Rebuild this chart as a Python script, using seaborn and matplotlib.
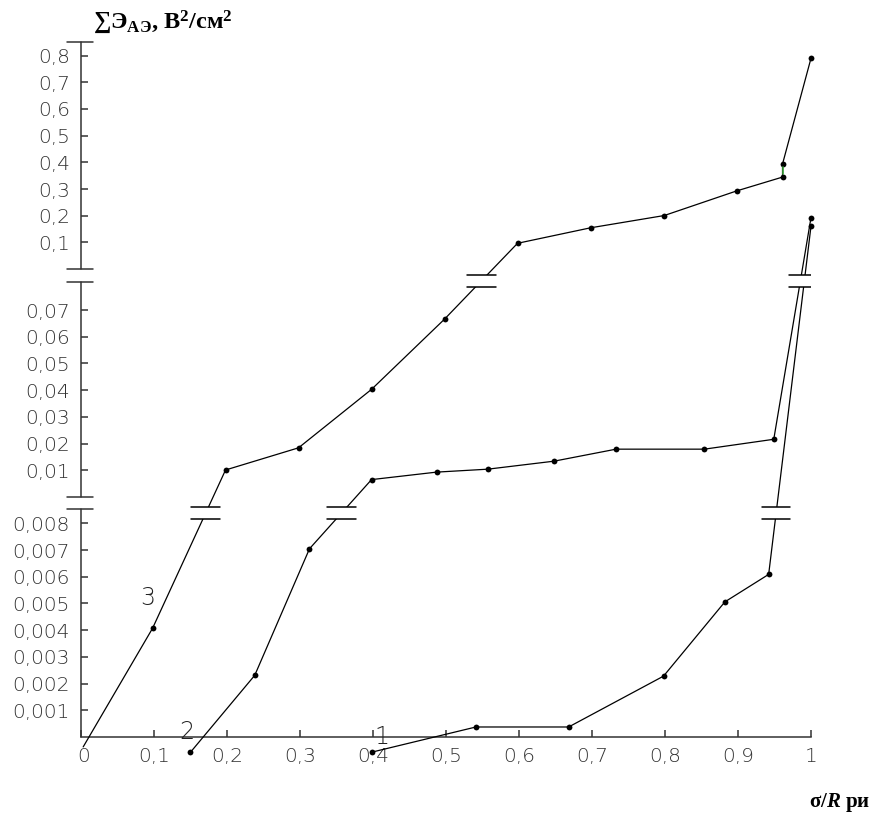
import matplotlib
matplotlib.use("Agg")
import matplotlib.pyplot as plt
import matplotlib.transforms as mtransforms
import numpy as np
import pandas as pd
import seaborn as sns

# Relative coordinate sigma / R
x_ticks = [0.0, 0.1, 0.2, 0.3, 0.4, 0.5, 0.6, 0.7, 0.8, 0.9, 1.0]
x_tick_labels = ["0", "0,1", "0,2", "0,3", "0,4", "0,5", "0,6", "0,7", "0,8", "0,9", "1"]

# Y tick values for each band of the broken axis (lower, middle, upper)
ticks_lower = [0.001, 0.002, 0.003, 0.004, 0.005, 0.006, 0.007, 0.008]
labels_lower = ["0,001", "0,002", "0,003", "0,004", "0,005", "0,006", "0,007", "0,008"]
ticks_middle = [0.01, 0.02, 0.03, 0.04, 0.05, 0.06, 0.07]
labels_middle = ["0,01", "0,02", "0,03", "0,04", "0,05", "0,06", "0,07"]
ticks_upper = [0.1, 0.2, 0.3, 0.4, 0.5, 0.6, 0.7, 0.8]
labels_upper = ["0,1", "0,2", "0,3", "0,4", "0,5", "0,6", "0,7", "0,8"]

# Curve 1
x1 = [0.398, 0.541, 0.668, 0.798, 0.882, 0.942, 1.0]
y1 = [-0.00057, 0.000375, 0.000375, 0.00228, 0.00506, 0.00609, 0.161]
band1 = [0, 0, 0, 0, 0, 0, 2]

# Curve 2
x2 = [0.150, 0.238, 0.313, 0.398, 0.487, 0.557, 0.648, 0.733, 0.854, 0.949, 1.0]
y2 = [-0.00057, 0.00231, 0.00705, 0.0065, 0.0093, 0.0104, 0.0134, 0.0179, 0.0179, 0.0216, 0.193]
band2 = [0, 0, 0, 1, 1, 1, 1, 1, 1, 1, 2]

# Curve 3
x3 = [0.003, 0.098, 0.198, 0.298, 0.398, 0.498, 0.598, 0.698, 0.799, 0.898, 0.961, 0.961, 1.0]
y3 = [-0.00037, 0.00407, 0.0101, 0.0184, 0.0403, 0.0666, 0.097, 0.155, 0.201, 0.293, 0.345, 0.394, 0.79]
band3 = [0, 0, 1, 1, 1, 1, 2, 2, 2, 2, 2, 2, 2]

# Broken axis: each band has its own value-per-unit factor and offset
band_scale = [1000.0, 100.0, 10.0]
band_offset = [0.0, 8.99, 17.52]
band_top = [0.00855, 0.0806, 0.852]
break_centers = [8.39, 17.09]   # where curve break marks sit (between bands)
half_gap = 0.22


def to_axis(values, bands):
    return np.array([band_offset[b] + v * band_scale[b] for v, b in zip(values, bands)])


sns.set_theme(style="white")
plt.rcParams["font.family"] = ["DejaVu Sans"]
plt.rcParams["mathtext.fontset"] = "custom"
plt.rcParams["mathtext.rm"] = "Liberation Serif:bold"
plt.rcParams["mathtext.bf"] = "Liberation Serif:bold"
plt.rcParams["mathtext.it"] = "Liberation Serif:bold:italic"

W, H = 878, 816
fig = plt.figure(figsize=(W / 100, H / 100), dpi=100)
ax = fig.add_axes([81 / W, (H - 737) / H, 730 / W, (737 - 41.7) / H])
u_top = band_offset[2] + band_top[2] * band_scale[2]
ax.set_xlim(0, 1)
ax.set_ylim(0, u_top)

lw = 0.9
curves = [(x1, y1, band1, True), (x2, y2, band2, True), (x3, y3, band3, False)]
breaks = []
for xs, ys, bs, first_marker in curves:
    us = to_axis(ys, bs)
    df = pd.DataFrame({"x": xs, "u": us})
    mk = list(range(len(xs))) if first_marker else list(range(1, len(xs)))
    sns.lineplot(data=df, x="x", y="u", sort=False, estimator=None, ax=ax,
                 color="black", lw=lw, marker="o", markersize=4.2,
                 markeredgewidth=0, markevery=mk, clip_on=False, zorder=3)
    # find where a segment jumps between bands
    for i in range(len(xs) - 1):
        b0, b1_ = bs[i], bs[i + 1]
        for k in range(b0, b1_):
            uc = break_centers[k]
            t = (uc - us[i]) / (us[i + 1] - us[i])
            breaks.append((k, xs[i] + t * (xs[i + 1] - xs[i])))

# merge break marks of neighbouring curves into one mark
merged = []
for k, xc in sorted(breaks):
    if merged and merged[-1][0] == k and abs(merged[-1][1][-1] - xc) < 0.02:
        merged[-1][1].append(xc)
    else:
        merged.append((k, [xc]))

hw = 0.0195
for k, xcs in merged:
    uc = break_centers[k]
    lo, hi = min(xcs), max(xcs)
    xc = (lo + hi) / 2 + (hi - lo) / 2 * 0.6
    ax.fill_between([xc - hw, xc + hw], uc - half_gap, uc + half_gap,
                    color="white", lw=0, zorder=4)
    ax.plot([xc - hw, xc + hw], [uc - half_gap] * 2, color="black", lw=1.1, zorder=5)
    ax.plot([xc - hw, xc + hw], [uc + half_gap] * 2, color="black", lw=1.1, zorder=5)

# green joining segment on curve 3
u3 = to_axis(y3, band3)
ax.plot([x3[10], x3[11]], [u3[10] + 0.12, u3[11] - 0.12], color="#3aa33a", lw=1.2, zorder=4)

# curve numbers
ax.text(0.092, to_axis([0.0052], [0])[0], "3", fontsize=17, fontweight="light",
        ha="center", va="center", color="#222222")
ax.text(0.145, to_axis([0.00018], [0])[0], "2", fontsize=17, fontweight="light",
        ha="center", va="center", color="#222222")
ax.text(0.412, to_axis([0.0], [0])[0], "1", fontsize=17, fontweight="light",
        ha="center", va="center", color="#222222")

# axes spines: bottom kept, left drawn as segments with break marks
for s in ["top", "right", "left"]:
    ax.spines[s].set_visible(False)
ax.spines["bottom"].set_color("#333333")
ax.spines["bottom"].set_linewidth(1.1)

axis_color = "#333333"
seg_bottom = [0.0, band_offset[1] - 0.01, band_offset[2]]
for k in range(3):
    top = band_offset[k] + band_top[k] * band_scale[k]
    ax.plot([0, 0], [seg_bottom[k], top], color=axis_color, lw=1.1, clip_on=False, zorder=2)
cap = [-0.0196, 0.0168]
for u in [band_offset[0] + band_top[0] * band_scale[0], seg_bottom[1],
          band_offset[1] + band_top[1] * band_scale[1], seg_bottom[2], u_top]:
    ax.plot(cap, [u, u], color=axis_color, lw=1.1, clip_on=False, zorder=2)

# ticks
yt = list(to_axis(ticks_lower, [0] * len(ticks_lower))) + \
     list(to_axis(ticks_middle, [1] * len(ticks_middle))) + \
     list(to_axis(ticks_upper, [2] * len(ticks_upper)))
ax.set_yticks(yt)
ax.set_yticklabels(labels_lower + labels_middle + labels_upper)
ax.set_xticks(x_ticks)
ax.set_xticklabels(x_tick_labels)
ax.tick_params(axis="both", direction="in", length=5, width=1.1, color=axis_color,
               labelsize=14.5, labelcolor="#333333")
ax.tick_params(axis="y", pad=8, left=True)
ax.tick_params(axis="x", pad=7, bottom=True)
for lab in ax.get_xticklabels() + ax.get_yticklabels():
    lab.set_fontweight("light")
zero_lab = ax.get_xticklabels()[0]
zero_lab.set_transform(zero_lab.get_transform() +
                       mtransforms.ScaledTranslation(3 / 100, 0, fig.dpi_scale_trans))
ax.set_xlabel("")
ax.set_ylabel("")

# axis titles
fig.text(93 / W, 1 - 28 / H, "∑Э$_{\\mathrm{АЭ}}$, В$^{\\mathrm{2}}$/см$^{\\mathrm{2}}$",
         fontsize=17.5, fontweight="bold", family=["Liberation Serif", "DejaVu Serif"],
         ha="left", va="baseline", color="black")
fig.text(870 / W, 1 - 807 / H, "σ/$R$ ри", fontsize=15, fontweight="bold",
         family=["Liberation Serif", "DejaVu Serif"], ha="right", va="baseline", color="black")

fig.savefig("out.png", dpi=100, facecolor="white")
